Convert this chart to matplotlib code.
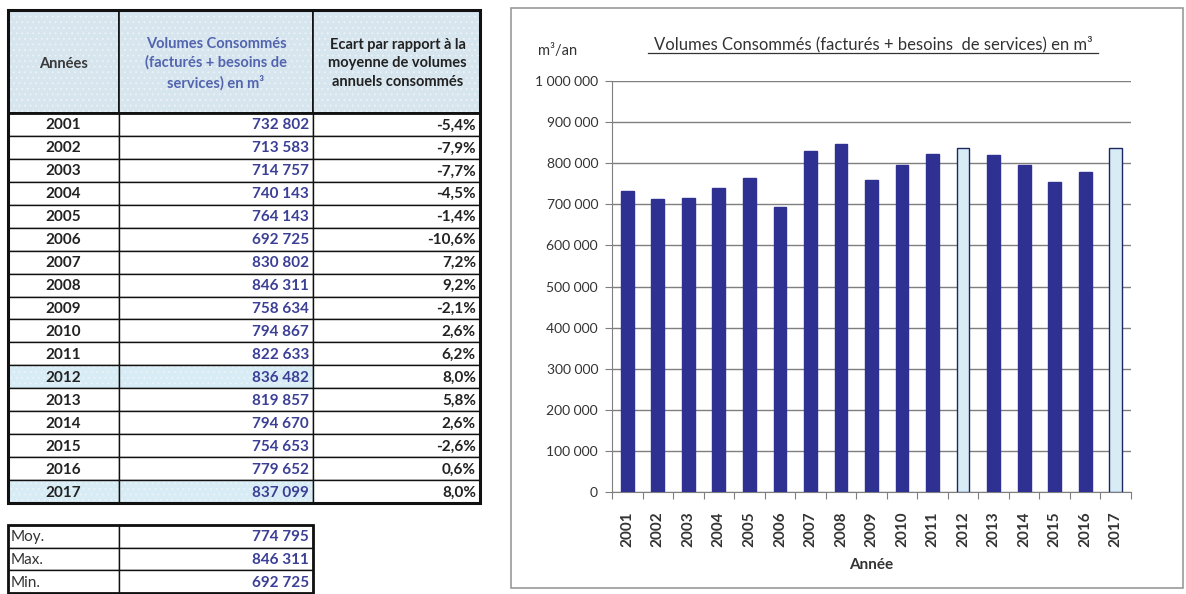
import matplotlib.pyplot as plt
from matplotlib.patches import Rectangle
from matplotlib.ticker import FuncFormatter

# Volumes consommés par année (m3)
annees = [2001, 2002, 2003, 2004, 2005, 2006, 2007, 2008, 2009,
          2010, 2011, 2012, 2013, 2014, 2015, 2016, 2017]
volumes = [732802, 713583, 714757, 740143, 764143, 692725, 830802, 846311, 758634,
           794867, 822633, 836482, 819857, 794670, 754653, 779652, 837099]
ecarts = ['-5,4%', '-7,9%', '-7,7%', '-4,5%', '-1,4%', '-10,6%', '7,2%', '9,2%', '-2,1%',
          '2,6%', '6,2%', '8,0%', '5,8%', '2,6%', '-2,6%', '0,6%', '8,0%']
annees_mises_en_avant = [2012, 2017]

stats_labels = ['Moy.', 'Max.', 'Min.']
stats_valeurs = [774795, 846311, 692725]

plt.rcParams['font.family'] = ['Lato', 'DejaVu Sans']
plt.rcParams['hatch.linewidth'] = 0.6

BLEU_FONCE = '#2E3192'
BLEU_CLAIR = '#D8ECF6'
BLEU_TEXTE = '#3B3F95'
FOND_ENTETE = '#D6E5EE'


def fmt(v):
    return f"{int(v):,}".replace(',', ' ')


W, H = 1186, 594
fig = plt.figure(figsize=(W / 100, H / 100), dpi=100)

# calque en pixels pour le tableau
tab = fig.add_axes([0, 0, 1, 1])
tab.set_xlim(0, W)
tab.set_ylim(H, 0)
tab.axis('off')

cols = [8, 119, 313, 480]
y_head0, y_head1 = 10, 113
row_h = (503 - y_head1) / len(annees)


def cell(x0, x1, y0, y1, fc='white', lw=1.0, trame=False):
    if trame:
        # fond pointillé clair
        tab.add_patch(Rectangle((x0, y0), x1 - x0, y1 - y0, facecolor=fc,
                                edgecolor='#EDF4F8', lw=0, hatch='...'))
    else:
        tab.add_patch(Rectangle((x0, y0), x1 - x0, y1 - y0, facecolor=fc, lw=0))
    tab.add_patch(Rectangle((x0, y0), x1 - x0, y1 - y0, fill=False,
                            edgecolor='#111111', lw=lw))


# entête
for c in range(3):
    cell(cols[c], cols[c + 1], y_head0, y_head1, fc=FOND_ENTETE, lw=1.2, trame=True)
yh = (y_head0 + y_head1) / 2 + 2
tab.text((cols[0] + cols[1]) / 2, yh, 'Années', ha='center', va='center',
         fontsize=10.5, color='#3A3A3A', fontweight='bold')
tab.text((cols[1] + cols[2]) / 2, yh, 'Volumes Consommés\n(facturés + besoins de\nservices) en m³',
         ha='center', va='center', fontsize=10.5, color='#5264AE', fontweight='bold',
         linespacing=1.4)
tab.text((cols[2] + cols[3]) / 2 + 1, yh, 'Ecart par rapport à la\nmoyenne de volumes\nannuels consommés',
         ha='center', va='center', fontsize=10.5, color='#222222', fontweight='bold',
         linespacing=1.4)

# lignes de données
for i, (a, v, e) in enumerate(zip(annees, volumes, ecarts)):
    y0 = y_head1 + i * row_h
    y1 = y0 + row_h
    mis_en_avant = a in annees_mises_en_avant
    fond = BLEU_CLAIR if mis_en_avant else 'white'
    cell(cols[0], cols[1], y0, y1, fc=fond, trame=mis_en_avant)
    cell(cols[1], cols[2], y0, y1, fc=fond, trame=mis_en_avant)
    cell(cols[2], cols[3], y0, y1, fc='white')
    ym = (y0 + y1) / 2 + 1
    tab.text((cols[0] + cols[1]) / 2, ym, str(a), ha='center', va='center',
             fontsize=11, color='#222222', fontweight='bold')
    tab.text(cols[2] - 4, ym, fmt(v), ha='right', va='center',
             fontsize=11, color=BLEU_TEXTE, fontweight='bold')
    tab.text(cols[3] - 4, ym, e, ha='right', va='center',
             fontsize=11, color='#222222', fontweight='bold')

# cadre épais autour du tableau principal
tab.add_patch(Rectangle((cols[0], y_head0), cols[3] - cols[0], 503 - y_head0,
                        fill=False, edgecolor='#111111', lw=2.2))
tab.plot([cols[0], cols[3]], [y_head1, y_head1], color='#111111', lw=2)

# tableau des statistiques
s_y0, s_h = 525, 22.7
for i, (lab, v) in enumerate(zip(stats_labels, stats_valeurs)):
    y0 = s_y0 + i * s_h
    cell(cols[0], cols[1], y0, y0 + s_h)
    cell(cols[1], cols[2], y0, y0 + s_h)
    ym = y0 + s_h / 2 + 1
    tab.text(cols[0] + 3, ym, lab, ha='left', va='center', fontsize=11, color='#333333')
    tab.text(cols[2] - 4, ym, fmt(v), ha='right', va='center',
             fontsize=11, color=BLEU_TEXTE, fontweight='bold')
tab.add_patch(Rectangle((cols[0], s_y0), cols[2] - cols[0], 3 * s_h,
                        fill=False, edgecolor='#111111', lw=2))

# cadre du graphique
tab.add_patch(Rectangle((511, 8), 1183 - 511, 588 - 8, fill=False,
                        edgecolor='#9A9A9A', lw=1.2))

# graphique en barres
ax_l, ax_r, ax_t, ax_b = 612, 1131, 81, 492
ax = fig.add_axes([ax_l / W, (H - ax_b) / H, (ax_r - ax_l) / W, (ax_b - ax_t) / H])
x = list(range(len(annees)))
couleurs = [BLEU_CLAIR if a in annees_mises_en_avant else BLEU_FONCE for a in annees]
bords = ['#1E2660' if a in annees_mises_en_avant else BLEU_FONCE for a in annees]
ax.bar(x, volumes, width=0.42, color=couleurs, edgecolor=bords, linewidth=1, zorder=3)

ax.set_xlim(-0.5, len(annees) - 0.5)
ax.set_ylim(0, 1000000)
ax.set_yticks(range(0, 1000001, 100000))
ax.yaxis.set_major_formatter(FuncFormatter(lambda v, p: fmt(v)))
ax.grid(axis='y', color='#7F7F7F', lw=1, zorder=0)
ax.set_xticks([i - 0.5 for i in x] + [len(annees) - 0.5])
ax.set_xticklabels([])
ax.set_xticks(x, minor=True)
ax.set_xticklabels([str(a) for a in annees], minor=True, rotation=90,
                   fontsize=11, color='#333333', fontweight='bold')
ax.tick_params(axis='x', which='minor', length=0, pad=14)
ax.tick_params(axis='x', which='major', length=5, color='#7F7F7F', direction='out')
ax.tick_params(axis='y', length=5, color='#7F7F7F', labelsize=10, labelcolor='#333333', pad=5)
for s in ['top', 'right']:
    ax.spines[s].set_visible(False)
for s in ['left', 'bottom']:
    ax.spines[s].set_color('#7F7F7F')
ax.set_xlabel('Année', fontsize=11, fontweight='bold', color='#333333', labelpad=8)

tab.text(873, 44, 'Volumes Consommés (facturés + besoins  de services) en m³',
         ha='center', va='center', fontsize=12, color='#333333')
tab.plot([648, 1098], [53, 53], color='#333333', lw=0.9)
tab.text(558, 51, 'm³/an', ha='center', va='center', fontsize=10.5,
         color='#333333')

fig.savefig('out.png', dpi=100)
